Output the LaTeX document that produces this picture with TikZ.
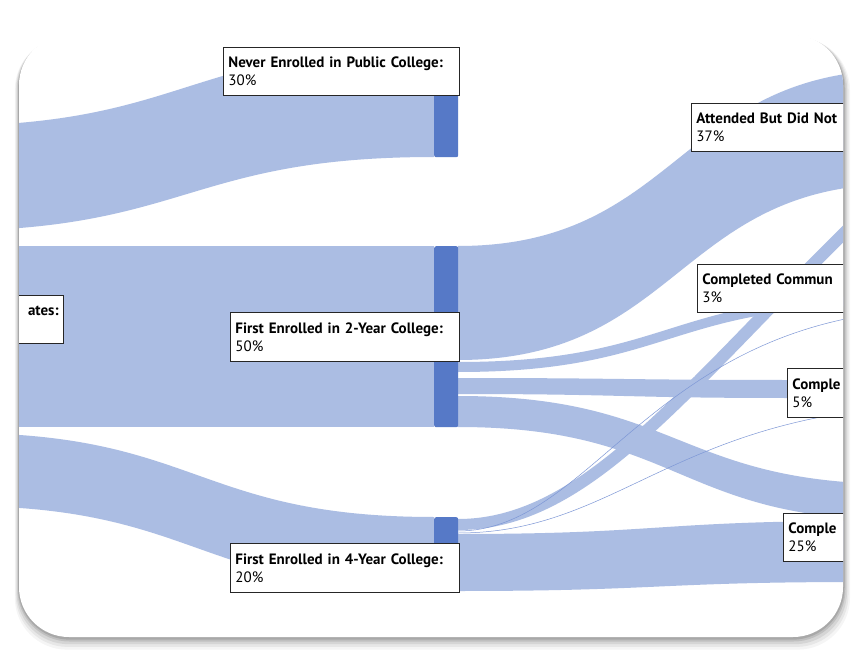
\documentclass[tikz,border=0pt]{standalone}
\usepackage{fontspec}
\setmainfont{PT Sans}
\begin{document}
\begin{tikzpicture}[x=1pt,y=-1pt,
  flow/.style={fill=flowc},
  bar/.style={fill=barc,rounded corners=2pt},
  lbl/.style={draw=black!85,line width=0.8pt,fill=white,anchor=north west,inner sep=5pt,align=left,font=\fontsize{15}{18}\selectfont},
  thinflow/.style={draw=flowd,line width=0.5pt}]
\definecolor{flowc}{HTML}{ABBDE3}
\definecolor{flowd}{HTML}{7D97D6}
\definecolor{barc}{HTML}{5679C7}
\newcommand\sband[6]{%
  \pgfmathsetmacro\xm{(#1+#4)/2}%
  \fill[flowc] (#1,#2) .. controls (\xm,#2) and (\xm,#5) .. (#4,#5) -- (#4,#6) .. controls (\xm,#6) and (\xm,#3) .. (#1,#3) -- cycle;}
\useasboundingbox (0,0) rectangle (862,663);
% shadow
\foreach \o/\op in {14/0.04,11/0.06,8/0.08,5/0.10,3/0.12}{
  \fill[black,opacity=\op,rounded corners=52pt] (19-\o*0.3,35+\o*0.2) rectangle (843+\o*0.5,637+\o*0.9);}
\fill[white,rounded corners=50pt] (19,35) rectangle (843,637);
\begin{scope}
\clip[rounded corners=50pt] (19,35) rectangle (843,637);
% left flows
\sband{-60}{126}{231}{434}{48}{157}
\fill[flowc] (-40,246) rectangle (434,427);
\sband{-40}{433}{506}{434}{517}{590}
% 2-year outflows
\sband{458}{246}{360}{900}{70}{184}
\sband{458}{362}{372}{880}{296}{306}
\sband{458}{378}{394}{790}{380}{398}
\sband{458}{396}{427}{900}{484}{520}
% 4-year outflows
\fill[flowc] (458,519) .. controls (590,519) and (690,370) .. (880,190) -- (888,199) .. controls (698,379) and (598,530) .. (458,530) -- cycle;
\draw[thinflow] (458,531) .. controls (580,531) and (640,360) .. (850,318);
\draw[thinflow] (458,533) .. controls (600,533) and (660,440) .. (850,412);
\sband{458}{534}{591}{860}{521}{582}
% bars
\node[bar,minimum width=24pt,minimum height=109pt,inner sep=0pt,anchor=north west] (never) at (434,48) {};
\node[bar,minimum width=24pt,minimum height=181pt,inner sep=0pt,anchor=north west] (two) at (434,246) {};
\node[bar,minimum width=24pt,minimum height=73pt,inner sep=0pt,anchor=north west] (four) at (434,517) {};
% labels
\node[lbl,minimum width=236pt,minimum height=48pt,text width=226pt] (lnever) at (223,47) {\textbf{Never Enrolled in Public College:}\\30\%};
\node[lbl,minimum width=229pt,minimum height=49pt,text width=219pt] (ltwo) at (230,312) {\textbf{First Enrolled in 2-Year College:}\\50\%};
\node[lbl,minimum width=229pt,minimum height=49pt,text width=219pt] (lfour) at (230,543) {\textbf{First Enrolled in 4-Year College:}\\20\%};
\node[lbl,minimum width=80pt,minimum height=48pt,text width=70pt,anchor=north east] (lsrc) at (64,295) {\hfill\textbf{ates:}\hspace*{5pt}\\~};
\node[lbl,minimum width=200pt,minimum height=48pt,text width=190pt] (latt) at (691,103) {\textbf{Attended But Did Not}\\37\%};
\node[lbl,minimum width=200pt,minimum height=48pt,text width=190pt] (lcc) at (697,264) {\textbf{Completed Commun}\\3\%};
\node[lbl,minimum width=100pt,minimum height=49pt,text width=90pt] (lc5) at (787,368) {\textbf{Comple}\\5\%};
\node[lbl,minimum width=100pt,minimum height=48pt,text width=90pt] (lc25) at (783,513) {\textbf{Comple}\\25\%};
\end{scope}
\end{tikzpicture}
\end{document}
